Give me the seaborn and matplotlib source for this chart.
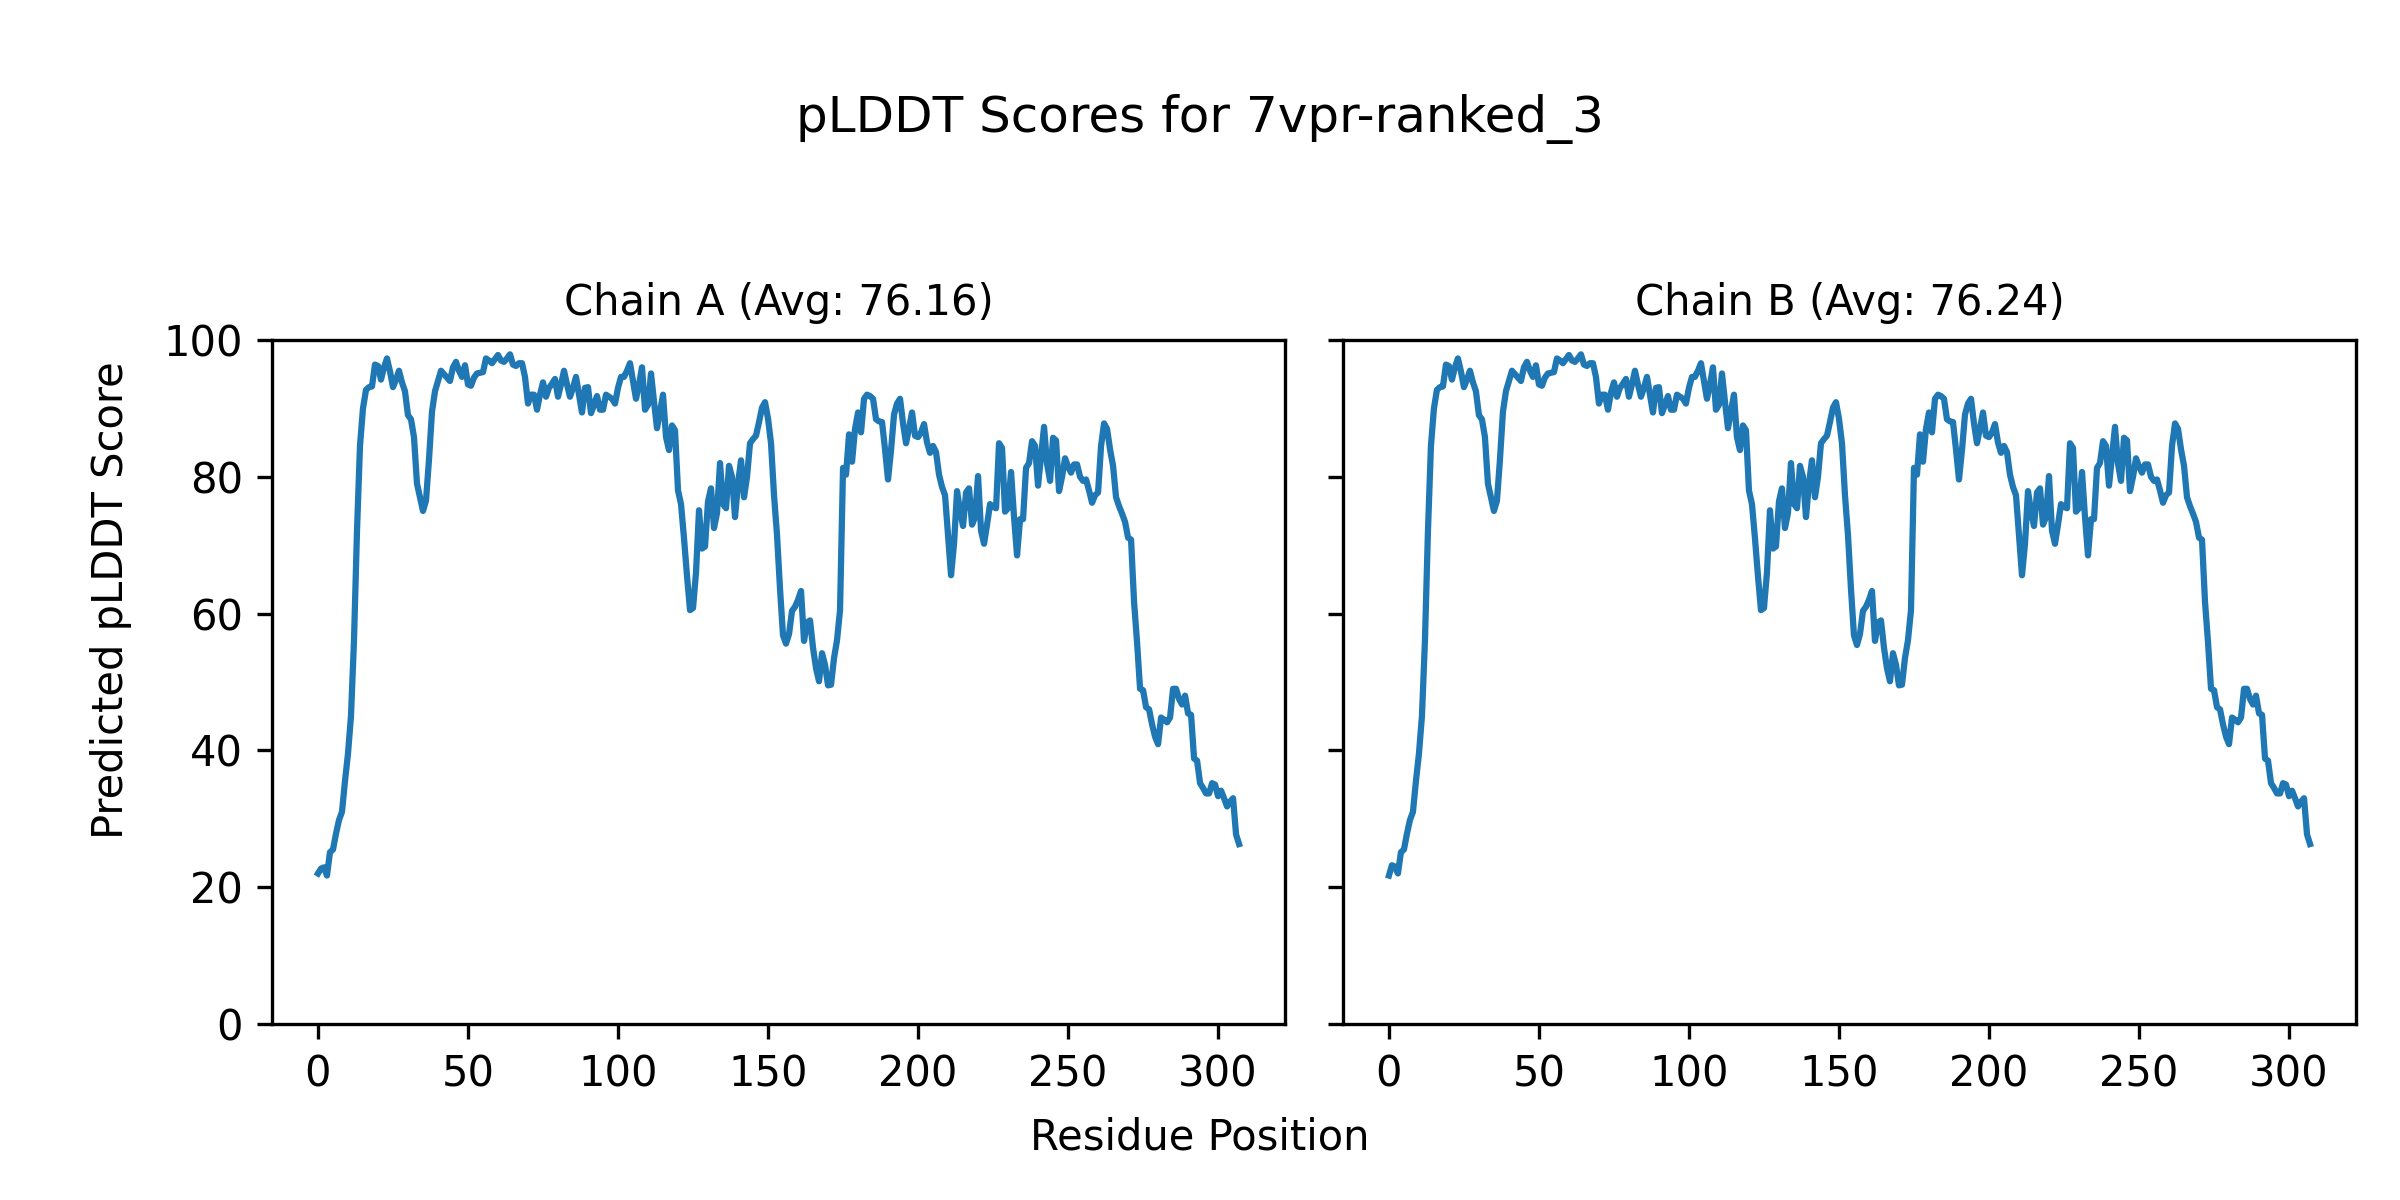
import numpy as np
import pandas as pd
import matplotlib
matplotlib.use("Agg")
import matplotlib.pyplot as plt
import seaborn as sns

# pLDDT per residue (308 residues, 0-based)
chain_a = [
    22.0, 22.7, 22.9, 21.7, 25.1, 25.5, 27.8, 29.8, 31.0, 35.5,
    39.5, 45.0, 56.0, 72.0, 84.5, 90.0, 92.7, 93.1, 93.2, 96.4,
    96.2, 94.2, 96.0, 97.3, 95.4, 93.1, 94.2, 95.5, 93.8, 92.5,
    89.0, 88.4, 85.8, 79.0, 77.0, 75.0, 76.5, 82.5, 89.5, 92.5,
    94.0, 95.5, 95.0, 94.5, 94.0, 96.0, 96.8, 95.5, 94.6, 96.3,
    93.5, 93.3, 94.5, 95.1, 95.2, 95.3, 97.3, 97.0, 96.6, 97.2,
    97.8, 97.0, 96.8, 97.3, 97.9, 96.4, 96.2, 96.6, 96.6, 94.6,
    90.7, 92.0, 92.0, 89.8, 92.0, 93.8, 91.7, 93.0, 93.6, 94.3,
    91.7, 93.5, 95.5, 93.5, 91.7, 93.0, 94.6, 92.0, 89.4, 93.0,
    93.1, 89.3, 90.5, 91.8, 89.8, 89.8, 92.0, 91.7, 91.4, 90.7,
    93.0, 94.6, 94.6, 95.5, 96.6, 94.0, 91.4, 93.5, 96.0, 89.8,
    90.5, 95.1, 91.0, 87.1, 89.5, 92.0, 85.8, 83.9, 87.5, 86.8,
    78.0, 76.0, 71.0, 65.5, 60.5, 60.8, 66.0, 75.1, 69.5, 69.8,
    76.4, 78.3, 72.5, 74.7, 82.0, 76.0, 75.4, 81.6, 80.0, 74.1,
    79.0, 82.4, 77.0, 80.0, 84.9, 85.5, 86.0, 88.0, 90.1, 90.9,
    88.5, 84.9, 77.3, 71.5, 63.6, 56.8, 55.6, 57.0, 60.4, 61.0,
    62.0, 63.3, 56.0, 58.7, 59.0, 55.0, 52.0, 50.1, 54.2, 52.5,
    49.5, 49.6, 53.5, 56.1, 60.5, 81.3, 80.3, 86.2, 82.2, 87.0,
    89.4, 86.5, 91.4, 92.0, 91.8, 91.4, 88.4, 88.1, 88.0, 84.0,
    79.6, 83.9, 89.1, 90.7, 91.4, 87.8, 84.9, 87.1, 89.4, 86.0,
    85.8, 86.5, 87.7, 85.0, 83.5, 84.5, 83.6, 80.3, 78.5, 77.3,
    71.5, 65.6, 70.2, 77.9, 75.0, 72.8, 77.7, 78.3, 73.0, 74.1,
    80.1, 72.1, 70.2, 73.0, 76.0, 75.6, 75.4, 84.9, 84.2, 74.9,
    75.4, 80.7, 74.1, 68.5, 73.8, 73.8, 81.3, 82.0, 85.2, 84.5,
    78.7, 83.0, 87.3, 81.9, 79.4, 85.7, 85.3, 77.9, 80.0, 82.7,
    81.5, 80.6, 81.8, 81.8, 80.0, 79.4, 79.6, 78.0, 76.2, 77.3,
    77.7, 84.5, 87.8, 87.0, 84.0, 81.6, 77.0, 75.7, 74.6, 73.4,
    71.1, 70.8, 61.7, 55.8, 49.0, 48.8, 46.3, 46.0, 43.8, 42.0,
    40.9, 44.8, 44.5, 44.1, 44.8, 49.0, 49.0, 47.5, 46.7, 48.0,
    45.4, 45.2, 38.8, 38.5, 35.2, 34.5, 33.7, 33.7, 35.2, 35.0,
    33.3, 34.1, 33.0, 31.8, 32.5, 33.0, 27.7, 26.3,
]

# chain B is nearly the same model; only a few residues differ visibly
chain_b = list(chain_a)
chain_b[0] = 21.7
chain_b[1] = 23.2
chain_b[2] = 23.0
chain_b[3] = 22.0
chain_b[74] = 92.3
chain_b[156] = 55.4

titles = ["Chain A (Avg: 76.16)", "Chain B (Avg: 76.24)"]
chains = [chain_a, chain_b]

fig, axes = plt.subplots(1, 2, figsize=(8, 4), dpi=300, sharey=True)
fig.subplots_adjust(left=0.1133, right=0.9817, top=0.7167, bottom=0.1467, wspace=0.057)

for ax, vals, title in zip(axes, chains, titles):
    df = pd.DataFrame({"residue": np.arange(len(vals)), "plddt": vals})
    sns.lineplot(data=df, x="residue", y="plddt", ax=ax, color="#1f77b4", linewidth=1.5)
    ax.set_title(title, fontsize=10)
    ax.set_ylim(0, 100)
    ax.set_xlabel("")
    ax.set_ylabel("")

fig.suptitle("pLDDT Scores for 7vpr-ranked_3", fontsize=12, y=0.901, va="center")
fig.supxlabel("Residue Position", fontsize=10, y=0.0525, va="center")
fig.supylabel("Predicted pLDDT Score", fontsize=10, x=0.0463, y=0.5, ha="center", va="center")

fig.savefig("out.png", dpi=300)
